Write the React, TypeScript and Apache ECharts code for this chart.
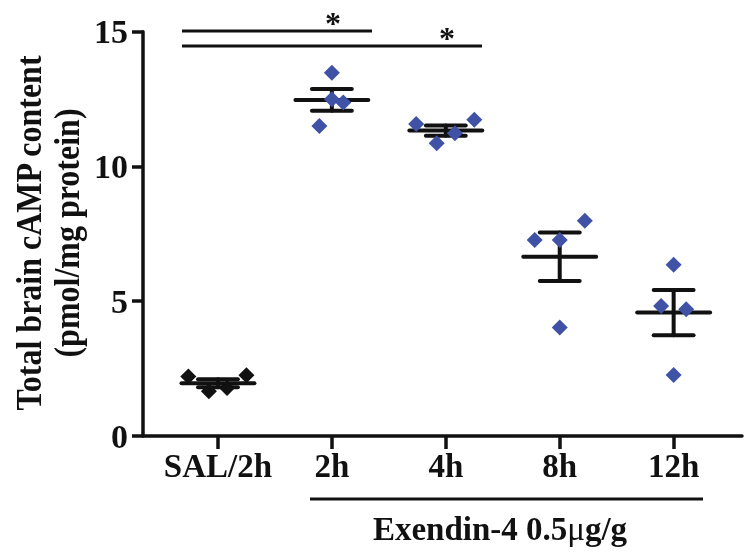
import React, { useEffect, useRef } from 'react';
import * as echarts from 'echarts';

const categories = ['SAL/2h', '2h', '4h', '8h', '12h'];
const groupValues = [
  [2.21, 2.25, 1.66, 1.78],
  [13.48, 12.49, 12.37, 11.5],
  [11.58, 10.86, 11.23, 11.73],
  [7.99, 7.27, 7.27, 4.03],
  [6.35, 4.82, 4.7, 2.26],
];
const groupJitter = [
  [-0.26, 0.25, -0.08, 0.08],
  [0, 0, 0.1, -0.11],
  [-0.26, -0.08, 0.08, 0.25],
  [0.22, -0.22, 0, 0],
  [0, -0.11, 0.11, 0],
];
const means = [1.96, 12.47, 11.33, 6.65, 4.58];
const sems = [0.15, 0.4, 0.19, 0.9, 0.84];
const yAxisTitle = ['Total brain cAMP content', '(pmol/mg protein)'];
const treatmentLabel = ['Exendin-4 0.5', 'μ', 'g/g'];
const significance = ['*', '*'];

const FONT = '"Liberation Serif", "Times New Roman", serif';
const INK = '#111111';
const BLUE = '#3f52a6';

export default function App() {
  const ref = useRef<HTMLDivElement>(null);
  useEffect(() => {
    if (!ref.current) return;
    const chart = echarts.init(ref.current, undefined, { renderer: 'svg' });
    const pointData: any[] = [];
    groupValues.forEach((vals, g) => {
      vals.forEach((v, k) => {
        pointData.push({
          value: [g + groupJitter[g][k], v],
          itemStyle: { color: g === 0 ? INK : BLUE, opacity: 1 },
        });
      });
    });
    const statData = means.map((m, i) => [i, m, sems[i]]);
    const option: any = {
      animation: false,
      grid: { left: 143, right: 4, top: 31.7, bottom: 116, outerBoundsMode: 'none', containLabel: false },
      xAxis: {
        type: 'value',
        min: -0.658,
        max: 4.6,
        splitLine: { show: false },
        axisLine: { show: true, onZero: false, lineStyle: { color: INK, width: 3.5 } },
        axisTick: { show: true, length: 13, customValues: [0, 1, 2, 3, 4], lineStyle: { color: INK, width: 3.5 } },
        axisLabel: {
          customValues: [0, 1, 2, 3, 4],
          formatter: (v: number) => categories[Math.round(v)] ?? '',
          fontFamily: FONT,
          fontWeight: 'bold',
          fontSize: 33,
          color: INK,
          margin: 13,
        },
      },
      yAxis: {
        type: 'value',
        min: 0,
        max: 15,
        interval: 5,
        splitLine: { show: false },
        axisLine: { show: true, onZero: false, lineStyle: { color: INK, width: 3.5 } },
        axisTick: { show: true, length: 11, lineStyle: { color: INK, width: 3.5 } },
        axisLabel: { fontFamily: FONT, fontWeight: 'bold', fontSize: 34, color: INK, margin: 15 },
      },
      series: [
        {
          type: 'custom',
          z: 2,
          data: statData,
          renderItem: (params: any, api: any) => {
            const i = api.value(0);
            const m = api.value(1);
            const s = api.value(2);
            const p = (x: number, y: number) => api.coord([x, y]);
            const style = { stroke: INK, lineWidth: 4, lineCap: 'round' };
            const mk = (a: number[], b: number[]) => ({
              type: 'line',
              shape: { x1: a[0], y1: a[1], x2: b[0], y2: b[1] },
              style,
            });
            return {
              type: 'group',
              children: [
                mk(p(i - 0.32, m), p(i + 0.32, m)),
                mk(p(i, m - s), p(i, m + s)),
                mk(p(i - 0.175, m + s), p(i + 0.175, m + s)),
                mk(p(i - 0.175, m - s), p(i + 0.175, m - s)),
              ],
            };
          },
        },
        {
          type: 'scatter',
          z: 3,
          symbol: 'diamond',
          symbolSize: 16,
          itemStyle: { opacity: 1 },
          data: pointData,
        },
      ],
      graphic: [
        { type: 'line', shape: { x1: 182, y1: 31, x2: 372, y2: 31 }, style: { stroke: INK, lineWidth: 3 } },
        { type: 'line', shape: { x1: 182, y1: 46, x2: 482, y2: 46 }, style: { stroke: INK, lineWidth: 3 } },
        {
          type: 'text', x: 333, y: 23,
          style: { text: significance[0], font: `bold 32px ${FONT}`, fill: INK, align: 'center', verticalAlign: 'middle' },
        },
        {
          type: 'text', x: 447, y: 38,
          style: { text: significance[1], font: `bold 32px ${FONT}`, fill: INK, align: 'center', verticalAlign: 'middle' },
        },
        { type: 'line', shape: { x1: 310, y1: 499, x2: 703, y2: 499 }, style: { stroke: INK, lineWidth: 3 } },
        {
          type: 'text', x: 500, y: 529,
          style: {
            text: `{b|${treatmentLabel[0]}}{m|${treatmentLabel[1]}}{b|${treatmentLabel[2]}}`,
            align: 'center', verticalAlign: 'middle',
            rich: {
              b: { fontFamily: FONT, fontWeight: 'bold', fontSize: 33, fill: INK, color: INK },
              m: { fontFamily: FONT, fontWeight: 'normal', fontSize: 33, fill: INK, color: INK },
            },
          },
        },
        {
          type: 'text', x: 47, y: 233, rotation: Math.PI / 2, scaleY: 1.15,
          style: {
            text: yAxisTitle.join('\n'),
            font: `bold 32px ${FONT}`, fill: INK, align: 'center', verticalAlign: 'middle', lineHeight: 33,
          },
        },
      ],
    };
    chart.setOption(option);
    return () => chart.dispose();
  }, []);
  return <div ref={ref} style={{ position: 'fixed', left: 0, top: 0, width: 746, height: 552 }} />;
}
